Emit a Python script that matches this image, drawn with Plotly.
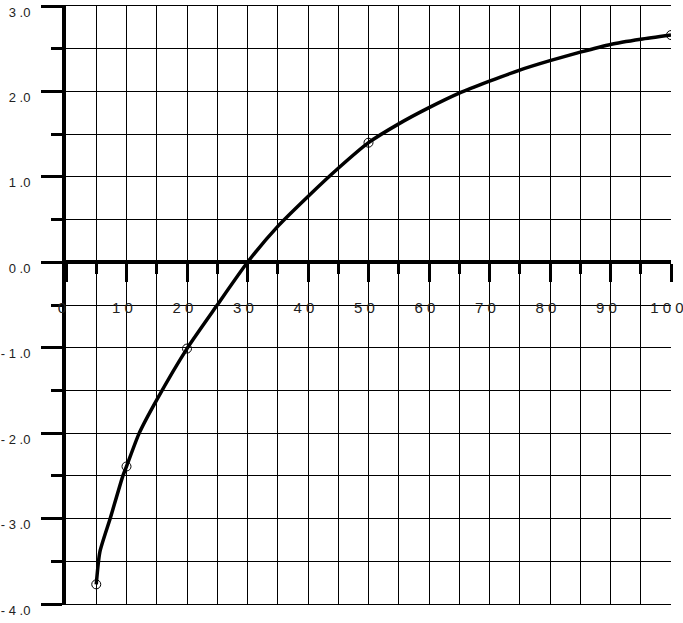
import plotly.graph_objects as go

# Smooth curve
curve_x = [5, 5.6, 7.3, 9.4, 10, 12.1, 15, 20, 25, 30, 35, 40, 45, 50,
           55, 60, 65, 70, 75, 80, 85, 90, 95, 100]
curve_y = [-3.77, -3.39, -3.0, -2.5, -2.39, -2.0, -1.61, -1.01, -0.50, 0.0,
           0.42, 0.77, 1.10, 1.40, 1.62, 1.81, 1.98, 2.12, 2.25, 2.36, 2.46, 2.55,
           2.61, 2.66]

# Measured points (open circles)
point_x = [5, 10, 20, 50, 100]
point_y = [-3.77, -2.39, -1.01, 1.40, 2.66]

# Tick labels
x_tickvals = [0, 10, 20, 30, 40, 50, 60, 70, 80, 90, 100]
x_ticktext = ["0", "1 0", "2 0", "3 0", "4 0", "5 0", "6 0", "7 0", "8 0", "9 0", "1 0 0"]
y_tickvals = [3, 2, 1, 0, -1, -2, -3, -4]
y_ticktext = ["3 .0", "2 .0", "1 .0", "0 .0", "- 1 .0", "- 2 .0", "- 3 .0", "- 4 .0"]

FAMILY = "Liberation Sans Narrow, Liberation Sans, Arial, sans-serif"
XFONT = dict(family=FAMILY, size=15, color="#222222")
YFONT = dict(family=FAMILY, size=13, color="#222222")

fig = go.Figure()
fig.add_trace(go.Scatter(x=curve_x, y=curve_y, mode="lines",
                         line=dict(color="black", width=3.5, shape="spline", smoothing=0.6),
                         hoverinfo="skip", showlegend=False))
fig.add_trace(go.Scatter(x=point_x, y=point_y, mode="markers",
                         marker=dict(symbol="circle-open", size=9, color="black",
                                     line=dict(width=1, color="black")),
                         showlegend=False))
# invisible trace bound to the overlay x axis so it is rendered
fig.add_trace(go.Scatter(x=[0, 100], y=[0, 0], xaxis="x2", mode="lines",
                         line=dict(width=0), hoverinfo="skip", showlegend=False))

fig.update_layout(
    width=683, height=623,
    margin=dict(l=66, r=12, t=6, b=19, autoexpand=False),
    paper_bgcolor="white", plot_bgcolor="white",
    font=XFONT,
    xaxis=dict(range=[0, 100], dtick=5, tick0=0, showgrid=True, gridcolor="black",
               gridwidth=1, showticklabels=False, ticks="", zeroline=False,
               showline=True, linecolor="black", linewidth=1, mirror=True,
               automargin=False),
    xaxis2=dict(range=[0, 100], overlaying="x", anchor="free", position=4/7,
                side="bottom", showgrid=False, zeroline=False,
                showline=True, linecolor="black", linewidth=4,
                tickmode="array", tickvals=x_tickvals, ticktext=x_ticktext,
                ticks="outside", ticklen=18, tickwidth=3, tickcolor="black",
                ticklabelstandoff=13, ticklabelshift=-4, ticklabeloverflow="allow",
                automargin=False,
                minor=dict(dtick=5, tick0=0, ticks="outside", ticklen=10,
                           tickwidth=3, tickcolor="black", showgrid=False),
                tickfont=XFONT),
    yaxis=dict(range=[-4, 3], tickmode="array", tickvals=y_tickvals, ticktext=y_ticktext,
               showgrid=True, gridcolor="black", gridwidth=1, zeroline=False,
               showline=True, linecolor="black", linewidth=4,
               ticks="outside", ticklen=21, tickwidth=3, tickcolor="black",
               ticklabelstandoff=8, ticklabelshift=6, ticklabeloverflow="allow",
               automargin=False,
               minor=dict(dtick=0.5, tick0=0, ticks="outside", ticklen=11, tickwidth=3,
                          tickcolor="black", showgrid=True, gridcolor="black", gridwidth=1),
               tickfont=YFONT),
)

fig.write_html("out.html", config={"displayModeBar": False},
               post_script="document.body.style.margin='0px';")
